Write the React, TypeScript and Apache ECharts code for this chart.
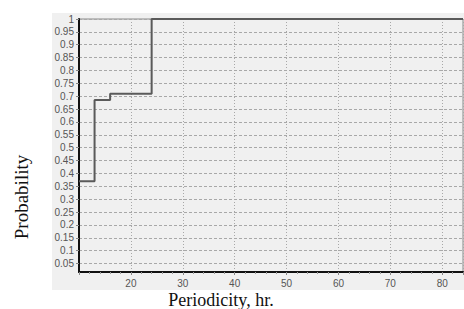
import React, { useEffect, useRef } from "react";
import * as echarts from "echarts";

const periodicity = [10, 13, 16, 24, 84];
const probability = [0.37, 0.685, 0.71, 1, 1];
const yTicks = [0.05, 0.1, 0.15, 0.2, 0.25, 0.3, 0.35, 0.4, 0.45, 0.5, 0.55, 0.6, 0.65, 0.7, 0.75, 0.8, 0.85, 0.9, 0.95, 1];
const xTicks = [20, 30, 40, 50, 60, 70, 80];
const xTitle = "Periodicity, hr.";
const yTitle = "Probability";

export default function App() {
  const ref = useRef<HTMLDivElement>(null);
  useEffect(() => {
    const chart = echarts.init(ref.current!, undefined, { renderer: "svg" });
    const data = periodicity.map((x, i) => [x, probability[i]]);
    chart.setOption({
      animation: false,
      graphic: [
        {
          type: "rect",
          z: -10,
          shape: { x: 52, y: 13, width: 412, height: 277 },
          style: { fill: "#f0f0f0" },
          silent: true,
        },
        {
          type: "text",
          x: 221,
          y: 291,
          style: {
            text: xTitle,
            font: '18px "Liberation Serif"',
            fill: "#111",
            align: "center",
            verticalAlign: "top",
          },
        },
        {
          type: "text",
          x: 21,
          y: 197,
          rotation: Math.PI / 2,
          style: {
            text: yTitle,
            font: '19px "Liberation Serif"',
            fill: "#111",
            align: "center",
            verticalAlign: "middle",
          },
        },
      ],
      grid: {
        left: 79,
        top: 19,
        right: 1,
        bottom: 37,
        show: true,
        borderColor: "#8a8a8a",
        borderWidth: 1,
        backgroundColor: "#f0f0f0",
      },
      xAxis: {
        type: "value",
        min: 10,
        max: 84,
        interval: 10,
        axisLine: { show: true, onZero: false, lineStyle: { color: "#111", width: 2 } },
        axisTick: { show: true, length: 3, lineStyle: { color: "#888" } },
        minorTick: { show: true, splitNumber: 5, length: 2, lineStyle: { color: "#999" } },
        axisLabel: {
          showMinLabel: false,
          showMaxLabel: false,
          margin: 6,
          color: "#555",
          fontFamily: "Liberation Sans",
          fontSize: 10,
        },
        splitLine: { show: true, lineStyle: { color: "#a8a8a8", type: [1, 2], width: 1 } },
      },
      yAxis: {
        type: "value",
        min: 0.017,
        max: 1,
        axisLine: { show: true, onZero: false, lineStyle: { color: "#111", width: 2 } },
        axisTick: { show: true, length: 3, customValues: yTicks, lineStyle: { color: "#888" } },
        axisLabel: {
          customValues: yTicks,
          margin: 5,
          color: "#555",
          fontFamily: "Liberation Sans",
          fontSize: 10,
          formatter: (v: number) => String(+v.toFixed(2)),
        },
        splitLine: { show: true, lineStyle: { color: "#a8a8a8", type: [3, 2], width: 1 } },
      },
      series: [
        {
          type: "line",
          step: "end",
          data,
          symbol: "none",
          lineStyle: { color: "#5a5a5a", width: 2 },
          z: 3,
        },
      ],
    });
    return () => chart.dispose();
  }, []);
  return (
    <div
      ref={ref}
      style={{ position: "fixed", left: 0, top: 0, width: 464, height: 309, background: "#fff" }}
    />
  );
}
